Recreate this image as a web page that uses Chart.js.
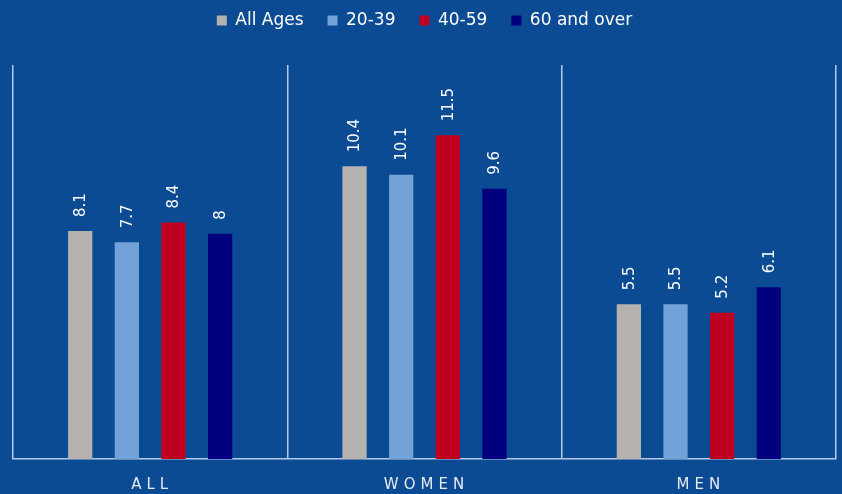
<!DOCTYPE html>
<html><head><meta charset="utf-8">
<script src="https://cdn.jsdelivr.net/npm/chart.js@4"></script>
<style>html,body{margin:0;padding:0;background:#0B4B94;}canvas{display:block;}</style>
</head><body>
<canvas id="c" width="842" height="494"></canvas>
<script>
const categories = ["ALL", "WOMEN", "MEN"];
const seriesNames = ["All Ages", "20-39", "40-59", "60 and over"];
const allAges = [8.1, 10.4, 5.5];
const age20to39 = [7.7, 10.1, 5.5];
const age40to59 = [8.4, 11.5, 5.2];
const age60plus = [8, 9.6, 6.1];
const colors = ["#B4B1AE", "#72A2D8", "#C00020", "#00007F"];

const seriesValues = [allAges, age20to39, age40to59, age60plus];
const FONT = '"DejaVu Sans", "Liberation Sans", sans-serif';

const valueLabels = {
  id: 'valueLabels',
  afterDatasetsDraw(chart) {
    const ctx = chart.ctx;
    ctx.save();
    ctx.fillStyle = '#FFFFFF';
    ctx.font = '15px ' + FONT;
    ctx.textAlign = 'left';
    ctx.textBaseline = 'middle';
    chart.data.datasets.forEach((ds, i) => {
      chart.getDatasetMeta(i).data.forEach((bar, j) => {
        ctx.save();
        ctx.translate(bar.x + 1, bar.y - 14);
        ctx.rotate(-Math.PI / 2);
        ctx.fillText(String(ds.data[j]), 0, 0);
        ctx.restore();
      });
    });
    ctx.restore();
  }
};

const layoutTweaks = {
  id: 'layoutTweaks',
  beforeInit(chart) {
    const lg = chart.legend;
    if (lg) {
      const origFit = lg.fit;
      lg.fit = function () {
        origFit.call(this);
        this.height = 77;
      };
    }
  },
  beforeDraw(chart) {
    const s = chart.scales.x;
    if (s && !s._spacedPatched) {
      const orig = s.drawLabels;
      s.drawLabels = function (area) {
        const ctx = this.ctx;
        ctx.save();
        ctx.letterSpacing = '5px';
        ctx.translate(2, 0);
        orig.call(this, area);
        ctx.restore();
      };
      s._spacedPatched = true;
    }
  }
};

new Chart(document.getElementById('c'), {
  type: 'bar',
  data: {
    labels: categories,
    datasets: seriesNames.map((n, i) => ({
      label: n,
      data: seriesValues[i],
      backgroundColor: colors[i],
      borderWidth: 0,
      categoryPercentage: 0.68,
      barPercentage: 0.52
    }))
  },
  options: {
    responsive: false,
    animation: false,
    layout: { padding: { left: 13, right: 6, top: -12, bottom: 0 } },
    plugins: {
      legend: {
        position: 'top',
        labels: {
          color: '#FFFFFF',
          boxWidth: 10,
          boxHeight: 10,
          padding: 24,
          font: { size: 17, family: FONT }
        }
      },
      tooltip: { enabled: false }
    },
    scales: {
      x: {
        afterFit(scale) { scale.height = 35; },
        grid: {
          display: true,
          offset: true,
          color: 'rgba(210,225,245,0.85)',
          lineWidth: 1.5,
          drawTicks: false
        },
        border: { display: true, color: 'rgba(210,225,245,0.85)', width: 1.5 },
        ticks: {
          color: '#E4EAF2',
          padding: 17,
          font: { size: 15, family: FONT }
        }
      },
      y: {
        display: false,
        min: 0,
        max: 14
      }
    }
  },
  plugins: [valueLabels, layoutTweaks]
});
</script>
</body></html>
